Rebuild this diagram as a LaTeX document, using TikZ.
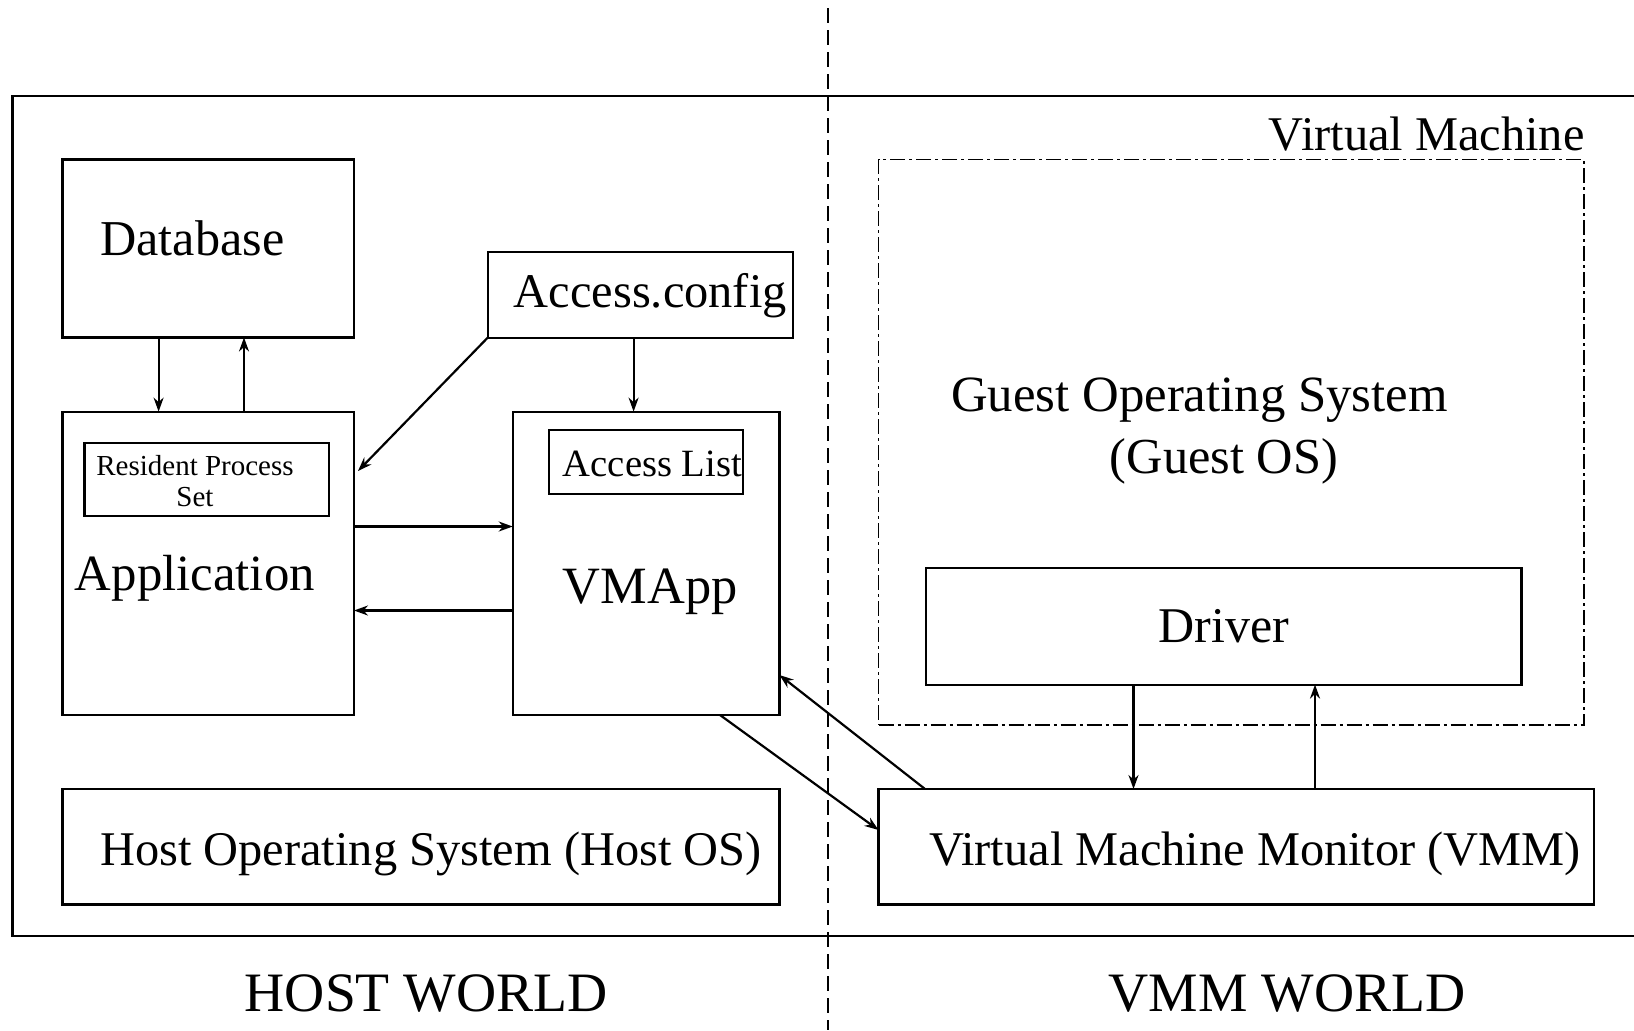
\documentclass[tikz,border=0pt]{standalone}
\usepackage{fontspec}
\setmainfont{Liberation Serif}
\usetikzlibrary{arrows.meta}
\begin{document}
\begin{tikzpicture}[x=0.5pt,y=-0.5pt,
  box/.style={draw,line width=1.1pt,inner sep=0pt,outer sep=0pt},
  txt/.style={inner sep=0pt,font=\fontsize{#1}{#1}\selectfont},
  arr/.style={line width=1.1pt,-{Stealth[length=7pt,width=5pt]}},
  divider/.style={line width=0.9pt,dash pattern=on 7.5pt off 3.5pt},
  vmframe/.style={draw,line width=0.9pt,inner sep=0pt,outer sep=0pt,
    dash pattern=on 7.5pt off 2pt on 1.5pt off 2pt}]
\useasboundingbox (0,0) rectangle (1634,1030);
\clip (0,0) rectangle (1634,1030);
\fill[white] (0,0) rectangle (1634,1030);

% outer frame and the world divider
\draw[line width=1.1pt] (12.5,96) rectangle (1660,936);
\draw[divider] (828,8) -- (828,1030);

% host side boxes
\node[box,minimum width=145.75pt,minimum height=89pt] (db) at (208.25,248.5) {};
\node[box,minimum width=152.65pt,minimum height=42.8pt] (cfg) at (640.4,294.8) {};
\node[box,minimum width=145.75pt,minimum height=151.7pt] (app) at (208.25,563.3) {};
\node[box,minimum width=122.3pt,minimum height=36.5pt] (rps) at (206.7,479.5) {};
\node[box,minimum width=133.4pt,minimum height=151.7pt] (vmapp) at (646.1,563.3) {};
\node[box,minimum width=97pt,minimum height=32pt] (alist) at (646,462) {};
\node[box,minimum width=358.5pt,minimum height=57.75pt] (hostos) at (421,846.75) {};

% VMM side boxes
\node[vmframe,minimum width=352.75pt,minimum height=282.75pt] (vm) at (1231.25,442.25) {};
\node[box,minimum width=297.75pt,minimum height=58.3pt] (drv) at (1223.75,626.3) {};
\node[box,minimum width=357.75pt,minimum height=57.75pt] (vmm) at (1236.25,846.75) {};

% labels
\node[txt=25.1] (tdb) at (192.3,238.6) {Database};
\node[txt=24.2] (tcfg) at (650.3,296) {Access.config};
\node[txt=14.5,align=center,font=\fontsize{14.5}{15.5}\selectfont] (trps) at (195,481) {Resident Process\\Set};
\node[txt=25.4] (tapp) at (194.9,578.5) {Application};
\node[txt=19.3] (talist) at (652.4,463.5) {Access List};
\node[txt=26.2] (tvmapp) at (650.3,592) {VMApp};
\node[txt=24.2] (thost) at (430.9,853.5) {Host Operating System (Host OS)};
\node[txt=24.2,anchor=east] (tvm) at (1585,134.4) {Virtual Machine};
\node[txt=25.4] (tgos) at (1199.5,400) {Guest Operating System};
\node[txt=25.2] (tgos2) at (1224,461) {(Guest OS)};
\node[txt=25] (tdrv) at (1224,626.3) {Driver};
\node[txt=24.2] (tvmm) at (1255.2,853.5) {Virtual Machine Monitor (VMM)};
\node[txt=27.8] (thw) at (426.2,993.1) {HOST WORLD};
\node[txt=27.8] (tvw) at (1287,993.1) {VMM WORLD};

% guide coordinates for connector positions
\coordinate (xa) at (158.6,0);
\coordinate (xb) at (244,0);
\coordinate (xc) at (633.6,0);
\coordinate (ya) at (0,526.5);
\coordinate (yb) at (0,610.5);
\coordinate (yc) at (0,471);
\coordinate (xd) at (720,0);
\coordinate (yd) at (0,830);
\coordinate (xe) at (925,0);
\coordinate (ye) at (0,675);
\coordinate (xf) at (1133.5,0);
\coordinate (xg) at (1315,0);

% connectors
\draw[arr] (db.south -| xa) -- (app.north -| xa);
\draw[arr] (app.north -| xb) -- (db.south -| xb);
\draw[arr] (cfg.south west) -- ([xshift=2pt]app.east |- yc);
\draw[arr] (cfg.south -| xc) -- (vmapp.north -| xc);
\draw[arr] (app.east |- ya) -- (vmapp.west |- ya);
\draw[arr] (vmapp.west |- yb) -- (app.east |- yb);
\draw[arr] (vmapp.south -| xd) -- (vmm.west |- yd);
\draw[arr] (vmm.north -| xe) -- (vmapp.east |- ye);
\draw[arr] (drv.south -| xf) -- (vmm.north -| xf);
\draw[arr] (vmm.north -| xg) -- (drv.south -| xg);
\end{tikzpicture}
\end{document}
